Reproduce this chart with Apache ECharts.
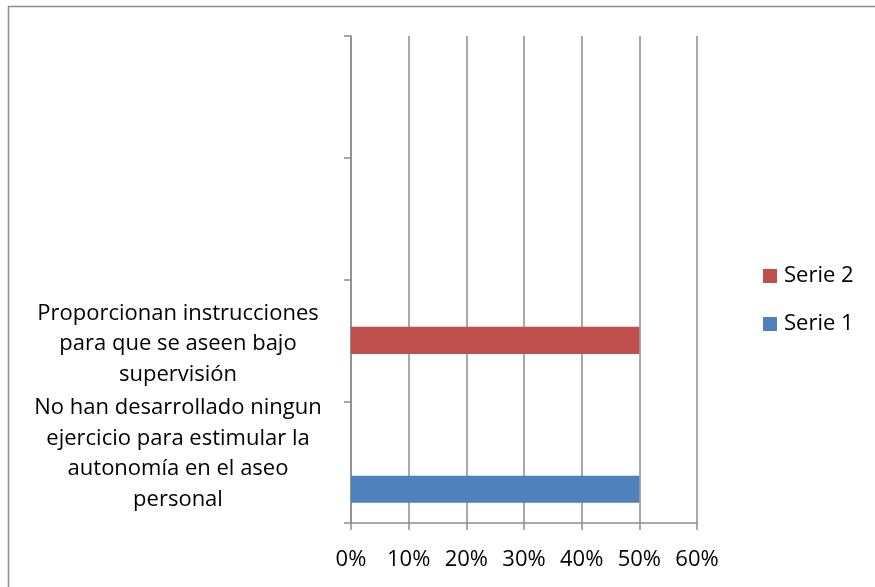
<!DOCTYPE html>
<html>
<head>
<meta charset="utf-8">
<script src="https://cdn.jsdelivr.net/npm/echarts@6/dist/echarts.min.js"></script>
<style>
  html, body { margin: 0; padding: 0; background: #fff; }
  #chart { width: 875px; height: 587px; }
</style>
</head>
<body>
<div id="chart"></div>
<script>
// Categories, bottom to top
const categories = [
  'No han desarrollado ningun\nejercicio para estimular la\nautonomía en el aseo\npersonal',
  'Proporcionan instrucciones\npara que se aseen bajo\nsupervisión',
  ' ',
  '  '
];
// Percentages per series (null = no bar)
const serie1 = [50, null, null, null];
const serie2 = [null, 50, null, null];
const serie3 = [null, null, null, null];
const xTicks = [0, 10, 20, 30, 40, 50, 60];

const FONT = '"Open Sans", "Noto Sans", sans-serif';
const FONT_SIZE = 22;
const GRID_COLOR = '#8c8c8c';

const chart = echarts.init(document.getElementById('chart'), null, { renderer: 'canvas' });

// Wrap each category line as rich text; spacer lines nudge long labels off the band centre
function categoryLabel(value, index) {
  const lines = value.split('\n').map(l => '{t|' + l + '}');
  if (index === 0) lines.push('{sbot| }');
  if (index === 1) lines.unshift('{stop| }');
  return lines.join('\n');
}

chart.setOption({
  animation: false,
  backgroundColor: '#fff',
  textStyle: { fontFamily: FONT },
  graphic: [
    { type: 'line', shape: { x1: 8, y1: 6.5, x2: 875, y2: 6.5 }, style: { stroke: GRID_COLOR, lineWidth: 1.5 } },
    { type: 'line', shape: { x1: 8.5, y1: 6, x2: 8.5, y2: 587 }, style: { stroke: GRID_COLOR, lineWidth: 1.5 } }
  ],
  grid: { left: 351, right: 178, top: 36, bottom: 64, containLabel: false, outerBoundsMode: 'none' },
  legend: {
    data: ['Serie 2', 'Serie 1'],
    orient: 'vertical',
    left: 758,
    top: 260,
    itemWidth: 14,
    itemHeight: 14,
    itemGap: 26,
    icon: 'rect',
    textStyle: { fontFamily: FONT, fontSize: FONT_SIZE, color: '#000', padding: [0, 0, 0, 2] }
  },
  xAxis: {
    type: 'value',
    min: xTicks[0],
    max: xTicks[xTicks.length - 1],
    interval: 10,
    axisLine: { show: true, lineStyle: { color: GRID_COLOR, width: 1.5 } },
    axisTick: { show: true, length: 7, lineStyle: { color: GRID_COLOR, width: 1.5 } },
    splitLine: { show: true, lineStyle: { color: GRID_COLOR, width: 1.5 } },
    axisLabel: {
      formatter: v => v + '%',
      fontFamily: FONT, fontSize: FONT_SIZE, color: '#000', margin: 26
    }
  },
  yAxis: {
    type: 'category',
    data: categories,
    axisLine: { show: true, lineStyle: { color: GRID_COLOR, width: 1.5 } },
    axisTick: { show: true, length: 7, lineStyle: { color: GRID_COLOR, width: 1.5 } },
    splitLine: { show: false },
    axisLabel: {
      interval: 0,
      margin: 173,
      align: 'center',
      formatter: categoryLabel,
      rich: {
        t: { fontFamily: FONT, fontSize: FONT_SIZE, lineHeight: 30.5, color: '#000' },
        sbot: { fontSize: 10, lineHeight: 17 },
        stop: { fontSize: 6, lineHeight: 7 }
      }
    }
  },
  series: [
    { name: 'Serie 3', type: 'bar', data: serie3, barGap: 0, barCategoryGap: '33.3%', itemStyle: { color: '#9BBB59' } },
    { name: 'Serie 2', type: 'bar', data: serie2, barGap: 0, barCategoryGap: '33.3%', itemStyle: { color: '#C0504D' } },
    { name: 'Serie 1', type: 'bar', data: serie1, barGap: 0, barCategoryGap: '33.3%', itemStyle: { color: '#4F81BD' } }
  ]
});
</script>
</body>
</html>
